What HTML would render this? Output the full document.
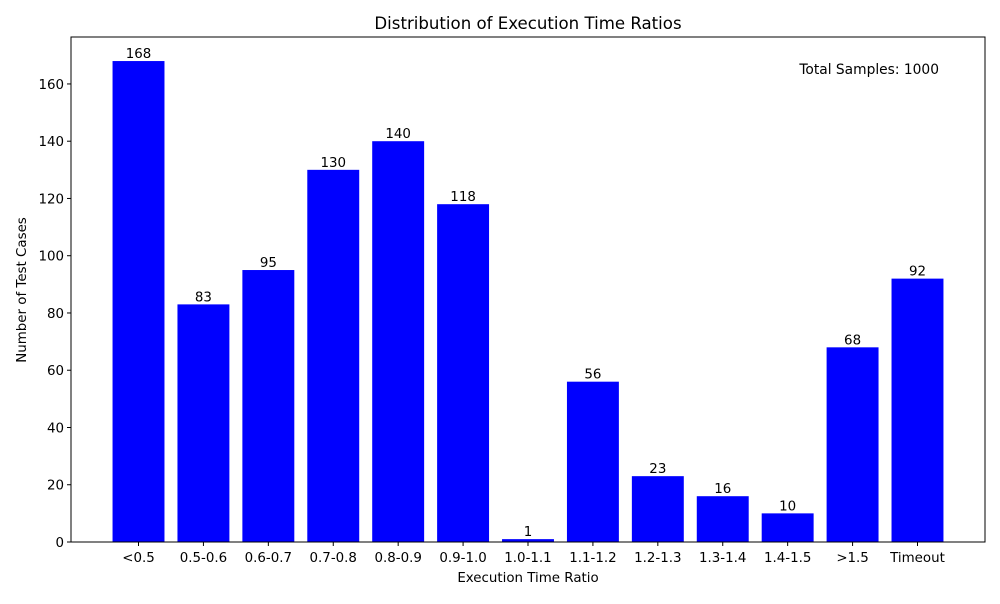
<!DOCTYPE html>
<html><head><meta charset="utf-8"><style>
body{margin:0;background:#fff;font-family:"DejaVu Sans","Liberation Sans",sans-serif;}
svg text{font-family:"DejaVu Sans","Liberation Sans",sans-serif;}
</style></head><body>
<svg id="chart" width="1000" height="600" xmlns="http://www.w3.org/2000/svg">
<rect width="1000" height="600" fill="#fff"/>
<text x="528" y="29" font-size="16.6" text-anchor="middle">Distribution of Execution Time Ratios</text>
<text x="528" y="582" font-size="13.4" text-anchor="middle">Execution Time Ratio</text>
<text transform="translate(26,290) rotate(-90)" font-size="13.4" text-anchor="middle">Number of Test Cases</text>
<text x="939" y="74" font-size="13.8" text-anchor="end">Total Samples: 1000</text>
<g id="bars"></g>
<g id="ticks"></g>
<rect x="71" y="37" width="914" height="505" fill="none" stroke="#000" stroke-width="1"/>
</svg>
<script>
const categories=["<0.5","0.5-0.6","0.6-0.7","0.7-0.8","0.8-0.9","0.9-1.0","1.0-1.1","1.1-1.2","1.2-1.3","1.3-1.4","1.4-1.5",">1.5","Timeout"];
const counts=[168,83,95,130,140,118,1,56,23,16,10,68,92];
const yTicks=[0,20,40,60,80,100,120,140,160];
const NS="http://www.w3.org/2000/svg";
const L=71,R=985,T=37,B=542;
const xmin=-1.04,xmax=categories.length-1+1.04;
const ymax=Math.max(...counts)*1.05;
function xs(i){return L+(i-xmin)/(xmax-xmin)*(R-L);}
function ys(v){return B-v/ymax*(B-T);}
const bw=0.8*(R-L)/(xmax-xmin);
const bars=document.getElementById('bars'),ticks=document.getElementById('ticks');
function mk(tag,attrs,parent){const e=document.createElementNS(NS,tag);for(const k in attrs)e.setAttribute(k,attrs[k]);parent.appendChild(e);return e;}
categories.forEach((c,i)=>{
  const r=mk('rect',{x:xs(i)-bw/2,y:ys(counts[i]),width:bw,height:B-ys(counts[i]),fill:'#0000ff'},bars);
  
  
  const t=mk('text',{x:xs(i),y:ys(counts[i])-3,'font-size':13.4,'text-anchor':'middle'},bars);
  t.textContent=counts[i];
  
  
  const tk=mk('line',{x1:xs(i),x2:xs(i),y1:B,y2:B+4,stroke:'#000'},ticks);
  
  
  const tl=mk('text',{x:xs(i),y:B+20,'font-size':13.4,'text-anchor':'middle'},ticks);
  tl.textContent=c;
  
  
});
yTicks.forEach(v=>{
  const tk=mk('line',{x1:L-4,x2:L,y1:ys(v),y2:ys(v),stroke:'#000'},ticks);
  
  
  const tl=mk('text',{x:L-7,y:ys(v)+5,'font-size':13.4,'text-anchor':'end'},ticks);
  tl.textContent=v;
  
  
});
</script>
</body></html>
